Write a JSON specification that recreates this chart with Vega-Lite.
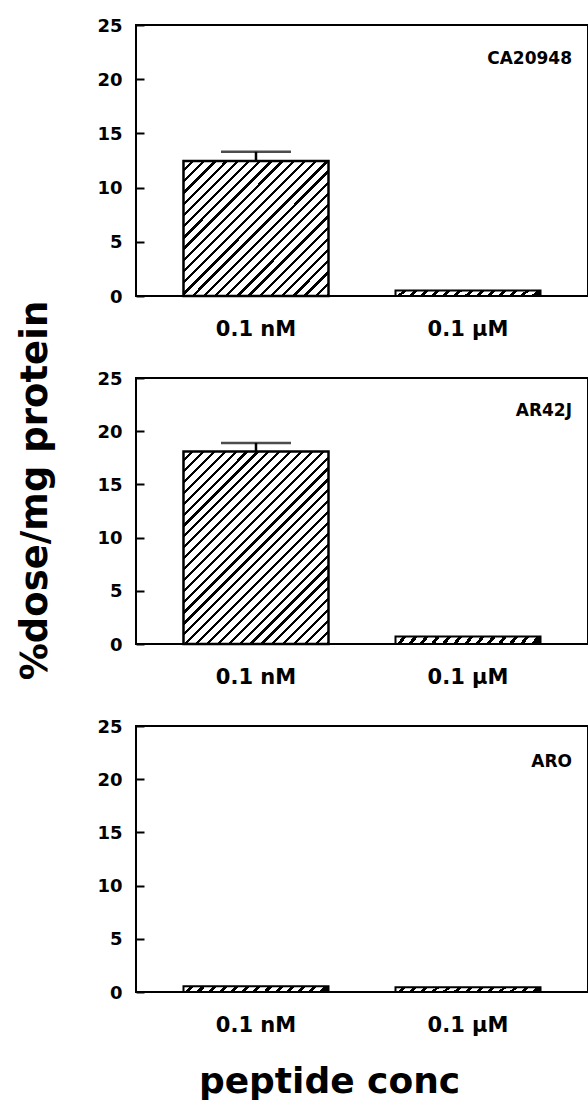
{
  "$schema": "https://vega.github.io/schema/vega-lite/v6.json",
  "background": "white",
  "padding": {"left": 15, "top": 16, "right": 0, "bottom": 0},
  "bounds": "flush",
  "spacing": 82,
  "config": {
    "view": {"stroke": "black", "strokeWidth": 2},
    "font": "DejaVu Sans",
    "axis": {"domain": false, "grid": false, "labelColor": "black", "labelFont": "DejaVu Sans", "labelFontWeight": "bold", "titleColor": "black", "titleFont": "DejaVu Sans", "titleFontWeight": "bold"},
    "axisX": {"ticks": false, "tickSize": 0, "labelFontSize": 21, "labelPadding": 22, "labelAngle": 0},
    "axisY": {"labelFontSize": 18, "labelFlush": false, "labelOverlap": false, "labelBaseline": "middle", "labelOffset": 1},
    "title": {"font": "DejaVu Sans", "fontWeight": "bold", "fontSize": 17, "color": "black", "anchor": "end", "frame": "group", "baseline": "alphabetic", "dx": -16}
  },
  "data": {"values": [
    {"cell": "CA20948", "conc": "0.1 nM", "value": 12.45, "upper": 13.3},
    {"cell": "CA20948", "conc": "0.1 µM", "value": 0.5},
    {"cell": "AR42J", "conc": "0.1 nM", "value": 18.1, "upper": 18.9},
    {"cell": "AR42J", "conc": "0.1 µM", "value": 0.7},
    {"cell": "ARO", "conc": "0.1 nM", "value": 0.55},
    {"cell": "ARO", "conc": "0.1 µM", "value": 0.45}
  ]},
  "vconcat": [
    {
      "width": 452, "height": 271,
      "title": {"text": "CA20948", "offset": -51},
      "transform": [{"filter": "datum.cell === 'CA20948'"}],
      "encoding": {
        "x": {"field": "conc", "type": "nominal", "sort": ["0.1 nM", "0.1 µM"], "scale": {"paddingInner": 0.316, "paddingOuter": 0.224}, "axis": {"title": null}},
        "y": {"field": "value", "type": "quantitative", "scale": {"domain": [0, 25], "nice": false}, "axis": {"title": null, "values": [0, 5, 10, 15, 20, 25], "ticks": true, "tickSize": 8, "tickWidth": 2, "tickColor": "#000", "offset": -8, "labelPadding": 14, "zindex": 3}}
      },
      "layer": [
        {"transform": [{"filter": "datum.conc === '0.1 nM'"}],
         "mark": {"type": "bar", "stroke": "black", "strokeWidth": 2.5, "fill": {"gradient": "linear", "x1": 0, "y1": 0, "x2": 1.036, "y2": 0.962, "stops": [
          {"offset": 0, "color": "#fff"},
          {"offset": 0.0282, "color": "#fff"}, {"offset": 0.0282, "color": "#000"}, {"offset": 0.04, "color": "#000"}, {"offset": 0.04, "color": "#fff"},
          {"offset": 0.0682, "color": "#fff"}, {"offset": 0.0682, "color": "#000"}, {"offset": 0.08, "color": "#000"}, {"offset": 0.08, "color": "#fff"},
          {"offset": 0.1082, "color": "#fff"}, {"offset": 0.1082, "color": "#000"}, {"offset": 0.12, "color": "#000"}, {"offset": 0.12, "color": "#fff"},
          {"offset": 0.1482, "color": "#fff"}, {"offset": 0.1482, "color": "#000"}, {"offset": 0.16, "color": "#000"}, {"offset": 0.16, "color": "#fff"},
          {"offset": 0.1882, "color": "#fff"}, {"offset": 0.1882, "color": "#000"}, {"offset": 0.2, "color": "#000"}, {"offset": 0.2, "color": "#fff"},
          {"offset": 0.2282, "color": "#fff"}, {"offset": 0.2282, "color": "#000"}, {"offset": 0.24, "color": "#000"}, {"offset": 0.24, "color": "#fff"},
          {"offset": 0.2682, "color": "#fff"}, {"offset": 0.2682, "color": "#000"}, {"offset": 0.28, "color": "#000"}, {"offset": 0.28, "color": "#fff"},
          {"offset": 0.3082, "color": "#fff"}, {"offset": 0.3082, "color": "#000"}, {"offset": 0.32, "color": "#000"}, {"offset": 0.32, "color": "#fff"},
          {"offset": 0.3482, "color": "#fff"}, {"offset": 0.3482, "color": "#000"}, {"offset": 0.36, "color": "#000"}, {"offset": 0.36, "color": "#fff"},
          {"offset": 0.3882, "color": "#fff"}, {"offset": 0.3882, "color": "#000"}, {"offset": 0.4, "color": "#000"}, {"offset": 0.4, "color": "#fff"},
          {"offset": 0.4282, "color": "#fff"}, {"offset": 0.4282, "color": "#000"}, {"offset": 0.44, "color": "#000"}, {"offset": 0.44, "color": "#fff"},
          {"offset": 0.4682, "color": "#fff"}, {"offset": 0.4682, "color": "#000"}, {"offset": 0.48, "color": "#000"}, {"offset": 0.48, "color": "#fff"},
          {"offset": 0.5082, "color": "#fff"}, {"offset": 0.5082, "color": "#000"}, {"offset": 0.52, "color": "#000"}, {"offset": 0.52, "color": "#fff"},
          {"offset": 0.5482, "color": "#fff"}, {"offset": 0.5482, "color": "#000"}, {"offset": 0.56, "color": "#000"}, {"offset": 0.56, "color": "#fff"},
          {"offset": 0.5882, "color": "#fff"}, {"offset": 0.5882, "color": "#000"}, {"offset": 0.6, "color": "#000"}, {"offset": 0.6, "color": "#fff"},
          {"offset": 0.6282, "color": "#fff"}, {"offset": 0.6282, "color": "#000"}, {"offset": 0.64, "color": "#000"}, {"offset": 0.64, "color": "#fff"},
          {"offset": 0.6682, "color": "#fff"}, {"offset": 0.6682, "color": "#000"}, {"offset": 0.68, "color": "#000"}, {"offset": 0.68, "color": "#fff"},
          {"offset": 0.7082, "color": "#fff"}, {"offset": 0.7082, "color": "#000"}, {"offset": 0.72, "color": "#000"}, {"offset": 0.72, "color": "#fff"},
          {"offset": 0.7482, "color": "#fff"}, {"offset": 0.7482, "color": "#000"}, {"offset": 0.76, "color": "#000"}, {"offset": 0.76, "color": "#fff"},
          {"offset": 0.7882, "color": "#fff"}, {"offset": 0.7882, "color": "#000"}, {"offset": 0.8, "color": "#000"}, {"offset": 0.8, "color": "#fff"},
          {"offset": 0.8282, "color": "#fff"}, {"offset": 0.8282, "color": "#000"}, {"offset": 0.84, "color": "#000"}, {"offset": 0.84, "color": "#fff"},
          {"offset": 0.8682, "color": "#fff"}, {"offset": 0.8682, "color": "#000"}, {"offset": 0.88, "color": "#000"}, {"offset": 0.88, "color": "#fff"},
          {"offset": 0.9082, "color": "#fff"}, {"offset": 0.9082, "color": "#000"}, {"offset": 0.92, "color": "#000"}, {"offset": 0.92, "color": "#fff"},
          {"offset": 0.9482, "color": "#fff"}, {"offset": 0.9482, "color": "#000"}, {"offset": 0.96, "color": "#000"}, {"offset": 0.96, "color": "#fff"},
          {"offset": 0.9882, "color": "#fff"}, {"offset": 0.9882, "color": "#000"}, {"offset": 1, "color": "#000"}
         ]}}},
        {"transform": [{"filter": "datum.conc !== '0.1 nM'"}],
         "mark": {"type": "bar", "stroke": "black", "strokeWidth": 2, "fill": {"gradient": "linear", "x1": 0, "y1": 0, "x2": 1, "y2": 0.04, "stops": [
          {"offset": 0, "color": "#fff"}, {"offset": 0.049, "color": "#fff"}, {"offset": 0.049, "color": "#000"}, {"offset": 0.07692, "color": "#000"},
          {"offset": 0.07692, "color": "#fff"}, {"offset": 0.12592, "color": "#fff"}, {"offset": 0.12592, "color": "#000"}, {"offset": 0.15385, "color": "#000"},
          {"offset": 0.15385, "color": "#fff"}, {"offset": 0.20285, "color": "#fff"}, {"offset": 0.20285, "color": "#000"}, {"offset": 0.23077, "color": "#000"},
          {"offset": 0.23077, "color": "#fff"}, {"offset": 0.27977, "color": "#fff"}, {"offset": 0.27977, "color": "#000"}, {"offset": 0.30769, "color": "#000"},
          {"offset": 0.30769, "color": "#fff"}, {"offset": 0.35669, "color": "#fff"}, {"offset": 0.35669, "color": "#000"}, {"offset": 0.38462, "color": "#000"},
          {"offset": 0.38462, "color": "#fff"}, {"offset": 0.43362, "color": "#fff"}, {"offset": 0.43362, "color": "#000"}, {"offset": 0.46154, "color": "#000"},
          {"offset": 0.46154, "color": "#fff"}, {"offset": 0.51054, "color": "#fff"}, {"offset": 0.51054, "color": "#000"}, {"offset": 0.53846, "color": "#000"},
          {"offset": 0.53846, "color": "#fff"}, {"offset": 0.58746, "color": "#fff"}, {"offset": 0.58746, "color": "#000"}, {"offset": 0.61538, "color": "#000"},
          {"offset": 0.61538, "color": "#fff"}, {"offset": 0.66438, "color": "#fff"}, {"offset": 0.66438, "color": "#000"}, {"offset": 0.69231, "color": "#000"},
          {"offset": 0.69231, "color": "#fff"}, {"offset": 0.74131, "color": "#fff"}, {"offset": 0.74131, "color": "#000"}, {"offset": 0.76923, "color": "#000"},
          {"offset": 0.76923, "color": "#fff"}, {"offset": 0.81823, "color": "#fff"}, {"offset": 0.81823, "color": "#000"}, {"offset": 0.84615, "color": "#000"},
          {"offset": 0.84615, "color": "#fff"}, {"offset": 0.89515, "color": "#fff"}, {"offset": 0.89515, "color": "#000"}, {"offset": 0.92308, "color": "#000"},
          {"offset": 0.92308, "color": "#fff"}, {"offset": 0.97208, "color": "#fff"}, {"offset": 0.97208, "color": "#000"}, {"offset": 1, "color": "#000"}
         ]}}},
        {"transform": [{"filter": "isValid(datum.upper)"}], "mark": {"type": "rule", "color": "black", "strokeWidth": 2.5}, "encoding": {"y2": {"field": "upper"}}},
        {"transform": [{"filter": "isValid(datum.upper)"}], "mark": {"type": "tick", "size": 70, "thickness": 2.5, "color": "black"}, "encoding": {"y": {"field": "upper", "type": "quantitative"}}}
      ]
    },
    {
      "width": 452, "height": 266,
      "title": {"text": "AR42J", "offset": -120},
      "transform": [{"filter": "datum.cell === 'AR42J'"}],
      "encoding": {
        "x": {"field": "conc", "type": "nominal", "sort": ["0.1 nM", "0.1 µM"], "scale": {"paddingInner": 0.316, "paddingOuter": 0.224}, "axis": {"title": null}},
        "y": {"field": "value", "type": "quantitative", "scale": {"domain": [0, 25], "nice": false}, "axis": {"title": "%dose/mg protein", "titleFontSize": 37, "titleAngle": 270, "titleX": -98, "titleY": 112, "titleAlign": "center", "titleBaseline": "alphabetic", "values": [0, 5, 10, 15, 20, 25], "ticks": true, "tickSize": 8, "tickWidth": 2, "tickColor": "#000", "offset": -8, "labelPadding": 14, "zindex": 3}}
      },
      "layer": [
        {"transform": [{"filter": "datum.conc === '0.1 nM'"}],
         "mark": {"type": "bar", "stroke": "black", "strokeWidth": 2.5, "fill": {"gradient": "linear", "x1": 0, "y1": 0, "x2": 0.842, "y2": 1.118, "stops": [
          {"offset": 0, "color": "#fff"},
          {"offset": 0.02276, "color": "#fff"}, {"offset": 0.02276, "color": "#000"}, {"offset": 0.03226, "color": "#000"}, {"offset": 0.03226, "color": "#fff"},
          {"offset": 0.05502, "color": "#fff"}, {"offset": 0.05502, "color": "#000"}, {"offset": 0.06452, "color": "#000"}, {"offset": 0.06452, "color": "#fff"},
          {"offset": 0.08727, "color": "#fff"}, {"offset": 0.08727, "color": "#000"}, {"offset": 0.09677, "color": "#000"}, {"offset": 0.09677, "color": "#fff"},
          {"offset": 0.11953, "color": "#fff"}, {"offset": 0.11953, "color": "#000"}, {"offset": 0.12903, "color": "#000"}, {"offset": 0.12903, "color": "#fff"},
          {"offset": 0.15179, "color": "#fff"}, {"offset": 0.15179, "color": "#000"}, {"offset": 0.16129, "color": "#000"}, {"offset": 0.16129, "color": "#fff"},
          {"offset": 0.18405, "color": "#fff"}, {"offset": 0.18405, "color": "#000"}, {"offset": 0.19355, "color": "#000"}, {"offset": 0.19355, "color": "#fff"},
          {"offset": 0.21631, "color": "#fff"}, {"offset": 0.21631, "color": "#000"}, {"offset": 0.22581, "color": "#000"}, {"offset": 0.22581, "color": "#fff"},
          {"offset": 0.24856, "color": "#fff"}, {"offset": 0.24856, "color": "#000"}, {"offset": 0.25806, "color": "#000"}, {"offset": 0.25806, "color": "#fff"},
          {"offset": 0.28082, "color": "#fff"}, {"offset": 0.28082, "color": "#000"}, {"offset": 0.29032, "color": "#000"}, {"offset": 0.29032, "color": "#fff"},
          {"offset": 0.31308, "color": "#fff"}, {"offset": 0.31308, "color": "#000"}, {"offset": 0.32258, "color": "#000"}, {"offset": 0.32258, "color": "#fff"},
          {"offset": 0.34534, "color": "#fff"}, {"offset": 0.34534, "color": "#000"}, {"offset": 0.35484, "color": "#000"}, {"offset": 0.35484, "color": "#fff"},
          {"offset": 0.3776, "color": "#fff"}, {"offset": 0.3776, "color": "#000"}, {"offset": 0.3871, "color": "#000"}, {"offset": 0.3871, "color": "#fff"},
          {"offset": 0.40985, "color": "#fff"}, {"offset": 0.40985, "color": "#000"}, {"offset": 0.41935, "color": "#000"}, {"offset": 0.41935, "color": "#fff"},
          {"offset": 0.44211, "color": "#fff"}, {"offset": 0.44211, "color": "#000"}, {"offset": 0.45161, "color": "#000"}, {"offset": 0.45161, "color": "#fff"},
          {"offset": 0.47437, "color": "#fff"}, {"offset": 0.47437, "color": "#000"}, {"offset": 0.48387, "color": "#000"}, {"offset": 0.48387, "color": "#fff"},
          {"offset": 0.50663, "color": "#fff"}, {"offset": 0.50663, "color": "#000"}, {"offset": 0.51613, "color": "#000"}, {"offset": 0.51613, "color": "#fff"},
          {"offset": 0.53889, "color": "#fff"}, {"offset": 0.53889, "color": "#000"}, {"offset": 0.54839, "color": "#000"}, {"offset": 0.54839, "color": "#fff"},
          {"offset": 0.57115, "color": "#fff"}, {"offset": 0.57115, "color": "#000"}, {"offset": 0.58065, "color": "#000"}, {"offset": 0.58065, "color": "#fff"},
          {"offset": 0.6034, "color": "#fff"}, {"offset": 0.6034, "color": "#000"}, {"offset": 0.6129, "color": "#000"}, {"offset": 0.6129, "color": "#fff"},
          {"offset": 0.63566, "color": "#fff"}, {"offset": 0.63566, "color": "#000"}, {"offset": 0.64516, "color": "#000"}, {"offset": 0.64516, "color": "#fff"},
          {"offset": 0.66792, "color": "#fff"}, {"offset": 0.66792, "color": "#000"}, {"offset": 0.67742, "color": "#000"}, {"offset": 0.67742, "color": "#fff"},
          {"offset": 0.70018, "color": "#fff"}, {"offset": 0.70018, "color": "#000"}, {"offset": 0.70968, "color": "#000"}, {"offset": 0.70968, "color": "#fff"},
          {"offset": 0.73244, "color": "#fff"}, {"offset": 0.73244, "color": "#000"}, {"offset": 0.74194, "color": "#000"}, {"offset": 0.74194, "color": "#fff"},
          {"offset": 0.76469, "color": "#fff"}, {"offset": 0.76469, "color": "#000"}, {"offset": 0.77419, "color": "#000"}, {"offset": 0.77419, "color": "#fff"},
          {"offset": 0.79695, "color": "#fff"}, {"offset": 0.79695, "color": "#000"}, {"offset": 0.80645, "color": "#000"}, {"offset": 0.80645, "color": "#fff"},
          {"offset": 0.82921, "color": "#fff"}, {"offset": 0.82921, "color": "#000"}, {"offset": 0.83871, "color": "#000"}, {"offset": 0.83871, "color": "#fff"},
          {"offset": 0.86147, "color": "#fff"}, {"offset": 0.86147, "color": "#000"}, {"offset": 0.87097, "color": "#000"}, {"offset": 0.87097, "color": "#fff"},
          {"offset": 0.89373, "color": "#fff"}, {"offset": 0.89373, "color": "#000"}, {"offset": 0.90323, "color": "#000"}, {"offset": 0.90323, "color": "#fff"},
          {"offset": 0.92598, "color": "#fff"}, {"offset": 0.92598, "color": "#000"}, {"offset": 0.93548, "color": "#000"}, {"offset": 0.93548, "color": "#fff"},
          {"offset": 0.95824, "color": "#fff"}, {"offset": 0.95824, "color": "#000"}, {"offset": 0.96774, "color": "#000"}, {"offset": 0.96774, "color": "#fff"},
          {"offset": 0.9905, "color": "#fff"}, {"offset": 0.9905, "color": "#000"}, {"offset": 1, "color": "#000"}
         ]}}},
        {"transform": [{"filter": "datum.conc !== '0.1 nM'"}],
         "mark": {"type": "bar", "stroke": "black", "strokeWidth": 2, "fill": {"gradient": "linear", "x1": 0, "y1": 0, "x2": 1, "y2": 0.04, "stops": [
          {"offset": 0, "color": "#fff"}, {"offset": 0.049, "color": "#fff"}, {"offset": 0.049, "color": "#000"}, {"offset": 0.07692, "color": "#000"},
          {"offset": 0.07692, "color": "#fff"}, {"offset": 0.12592, "color": "#fff"}, {"offset": 0.12592, "color": "#000"}, {"offset": 0.15385, "color": "#000"},
          {"offset": 0.15385, "color": "#fff"}, {"offset": 0.20285, "color": "#fff"}, {"offset": 0.20285, "color": "#000"}, {"offset": 0.23077, "color": "#000"},
          {"offset": 0.23077, "color": "#fff"}, {"offset": 0.27977, "color": "#fff"}, {"offset": 0.27977, "color": "#000"}, {"offset": 0.30769, "color": "#000"},
          {"offset": 0.30769, "color": "#fff"}, {"offset": 0.35669, "color": "#fff"}, {"offset": 0.35669, "color": "#000"}, {"offset": 0.38462, "color": "#000"},
          {"offset": 0.38462, "color": "#fff"}, {"offset": 0.43362, "color": "#fff"}, {"offset": 0.43362, "color": "#000"}, {"offset": 0.46154, "color": "#000"},
          {"offset": 0.46154, "color": "#fff"}, {"offset": 0.51054, "color": "#fff"}, {"offset": 0.51054, "color": "#000"}, {"offset": 0.53846, "color": "#000"},
          {"offset": 0.53846, "color": "#fff"}, {"offset": 0.58746, "color": "#fff"}, {"offset": 0.58746, "color": "#000"}, {"offset": 0.61538, "color": "#000"},
          {"offset": 0.61538, "color": "#fff"}, {"offset": 0.66438, "color": "#fff"}, {"offset": 0.66438, "color": "#000"}, {"offset": 0.69231, "color": "#000"},
          {"offset": 0.69231, "color": "#fff"}, {"offset": 0.74131, "color": "#fff"}, {"offset": 0.74131, "color": "#000"}, {"offset": 0.76923, "color": "#000"},
          {"offset": 0.76923, "color": "#fff"}, {"offset": 0.81823, "color": "#fff"}, {"offset": 0.81823, "color": "#000"}, {"offset": 0.84615, "color": "#000"},
          {"offset": 0.84615, "color": "#fff"}, {"offset": 0.89515, "color": "#fff"}, {"offset": 0.89515, "color": "#000"}, {"offset": 0.92308, "color": "#000"},
          {"offset": 0.92308, "color": "#fff"}, {"offset": 0.97208, "color": "#fff"}, {"offset": 0.97208, "color": "#000"}, {"offset": 1, "color": "#000"}
         ]}}},
        {"transform": [{"filter": "isValid(datum.upper)"}], "mark": {"type": "rule", "color": "black", "strokeWidth": 2.5}, "encoding": {"y2": {"field": "upper"}}},
        {"transform": [{"filter": "isValid(datum.upper)"}], "mark": {"type": "tick", "size": 70, "thickness": 2.5, "color": "black"}, "encoding": {"y": {"field": "upper", "type": "quantitative"}}}
      ]
    },
    {
      "width": 452, "height": 266,
      "title": {"text": "ARO", "offset": -53},
      "transform": [{"filter": "datum.cell === 'ARO'"}],
      "encoding": {
        "x": {"field": "conc", "type": "nominal", "sort": ["0.1 nM", "0.1 µM"], "scale": {"paddingInner": 0.316, "paddingOuter": 0.224}, "axis": {"title": "peptide conc", "titleFontSize": 36, "titleX": 193, "titleY": 100, "titleAlign": "center", "titleBaseline": "alphabetic"}},
        "y": {"field": "value", "type": "quantitative", "scale": {"domain": [0, 25], "nice": false}, "axis": {"title": null, "values": [0, 5, 10, 15, 20, 25], "ticks": true, "tickSize": 8, "tickWidth": 2, "tickColor": "#000", "offset": -8, "labelPadding": 14, "zindex": 3}}
      },
      "layer": [
        {"mark": {"type": "bar", "stroke": "black", "strokeWidth": 2, "fill": {"gradient": "linear", "x1": 0, "y1": 0, "x2": 1, "y2": 0.04, "stops": [
          {"offset": 0, "color": "#fff"}, {"offset": 0.049, "color": "#fff"}, {"offset": 0.049, "color": "#000"}, {"offset": 0.07692, "color": "#000"},
          {"offset": 0.07692, "color": "#fff"}, {"offset": 0.12592, "color": "#fff"}, {"offset": 0.12592, "color": "#000"}, {"offset": 0.15385, "color": "#000"},
          {"offset": 0.15385, "color": "#fff"}, {"offset": 0.20285, "color": "#fff"}, {"offset": 0.20285, "color": "#000"}, {"offset": 0.23077, "color": "#000"},
          {"offset": 0.23077, "color": "#fff"}, {"offset": 0.27977, "color": "#fff"}, {"offset": 0.27977, "color": "#000"}, {"offset": 0.30769, "color": "#000"},
          {"offset": 0.30769, "color": "#fff"}, {"offset": 0.35669, "color": "#fff"}, {"offset": 0.35669, "color": "#000"}, {"offset": 0.38462, "color": "#000"},
          {"offset": 0.38462, "color": "#fff"}, {"offset": 0.43362, "color": "#fff"}, {"offset": 0.43362, "color": "#000"}, {"offset": 0.46154, "color": "#000"},
          {"offset": 0.46154, "color": "#fff"}, {"offset": 0.51054, "color": "#fff"}, {"offset": 0.51054, "color": "#000"}, {"offset": 0.53846, "color": "#000"},
          {"offset": 0.53846, "color": "#fff"}, {"offset": 0.58746, "color": "#fff"}, {"offset": 0.58746, "color": "#000"}, {"offset": 0.61538, "color": "#000"},
          {"offset": 0.61538, "color": "#fff"}, {"offset": 0.66438, "color": "#fff"}, {"offset": 0.66438, "color": "#000"}, {"offset": 0.69231, "color": "#000"},
          {"offset": 0.69231, "color": "#fff"}, {"offset": 0.74131, "color": "#fff"}, {"offset": 0.74131, "color": "#000"}, {"offset": 0.76923, "color": "#000"},
          {"offset": 0.76923, "color": "#fff"}, {"offset": 0.81823, "color": "#fff"}, {"offset": 0.81823, "color": "#000"}, {"offset": 0.84615, "color": "#000"},
          {"offset": 0.84615, "color": "#fff"}, {"offset": 0.89515, "color": "#fff"}, {"offset": 0.89515, "color": "#000"}, {"offset": 0.92308, "color": "#000"},
          {"offset": 0.92308, "color": "#fff"}, {"offset": 0.97208, "color": "#fff"}, {"offset": 0.97208, "color": "#000"}, {"offset": 1, "color": "#000"}
         ]}}}
      ]
    }
  ]
}
